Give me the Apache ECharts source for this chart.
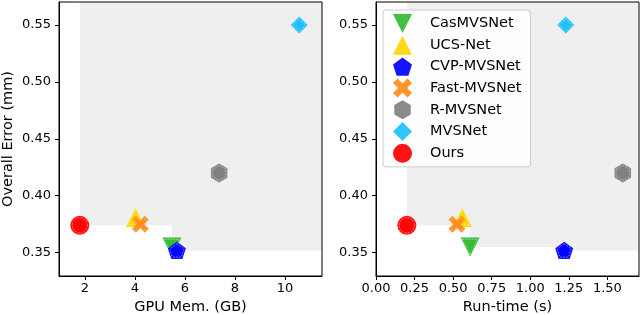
<!DOCTYPE html>
<html><head><meta charset="utf-8">
<script src="https://cdn.jsdelivr.net/npm/echarts@6/dist/echarts.min.js"></script>
<style>html,body{margin:0;padding:0;background:#fff}#c{width:640px;height:315px}</style>
</head><body><div id="c"></div>
<script>
const methods = ['CasMVSNet','UCS-Net','CVP-MVSNet','Fast-MVSNet','R-MVSNet','MVSNet','Ours'];
const gpuMemGB = [5.48, 4.03, 5.68, 4.22, 7.37, 10.57, 1.8];
const runTimeS = [0.61, 0.56, 1.22, 0.525, 1.6, 1.23, 0.2];
const overallError = [0.355, 0.381, 0.352, 0.375, 0.420, 0.550, 0.374];
const errorTicks = [0.35, 0.40, 0.45, 0.50, 0.55];
const memTicks = [2, 4, 6, 8, 10];
const timeTicks = [0, 0.25, 0.5, 0.75, 1.0, 1.25, 1.5];
const paretoMethods = ['Ours','CasMVSNet','CVP-MVSNet'];

const colors = ['#33bb33','#ffd700','#0000ff','#ff8c1a','#808080','#1ec0ff','#ff0000'];
const symbols = [
  'path://M-1,-1 L1,-1 L0,1 Z',
  'triangle',
  'path://M0,-1 L0.951,-0.309 L0.588,0.809 L-0.588,0.809 L-0.951,-0.309 Z',
  'path://M-1,-0.52 L-0.52,-1 L0,-0.48 L0.52,-1 L1,-0.52 L0.48,0 L1,0.52 L0.52,1 L0,0.48 L-0.52,1 L-1,0.52 L-0.48,0 Z',
  'path://M0,-1 L0.866,-0.5 L0.866,0.5 L0,1 L-0.866,0.5 L-0.866,-0.5 Z',
  'diamond','circle'];
const sizes = [19,19,18,17,19,17,19];

const yMin = 0.3295, yMax = 0.5702;
const memMin = 0.97, memMax = 11.48;
const timeMin = 0, timeMax = 1.705;

const font = 'DejaVu Sans';
const tickFont = 13, titleFont = 14.5;

function region(xs, xmax) {
  return paretoMethods.map(n => {
    const i = methods.indexOf(n);
    return [{coord:[xs[i], overallError[i]]},{coord:[xmax, yMax]}];
  });
}

function makeAxis(gridIndex, min, max, ticks, name, nameGap, margin, fmt) {
  const ax = {
    type:'value', gridIndex, min, max, splitLine:{show:false},
    axisLine:{show:true, lineStyle:{color:'#000', width:1}},
    axisTick:{show:true, inside:false, length:4, lineStyle:{color:'#000'}, customValues:ticks},
    axisLabel:{color:'#000', fontFamily:font, fontSize:tickFont, margin, customValues:ticks},
    nameTextStyle:{color:'#000', fontFamily:font, fontSize:titleFont}
  };
  if (fmt) ax.axisLabel.formatter = fmt;
  if (name) { ax.name = name; ax.nameLocation = 'middle'; ax.nameGap = nameGap; }
  return ax;
}

const series = [];
[0,1].forEach(g => {
  const xs = g === 0 ? gpuMemGB : runTimeS;
  const xmax = g === 0 ? memMax : timeMax;
  series.push({
    type:'scatter', xAxisIndex:g, yAxisIndex:g, data:[], silent:true, z:1,
    markArea:{silent:true, itemStyle:{color:'#efefef'}, data: region(xs, xmax)}
  });
  methods.forEach((m, i) => {
    series.push({
      name:m, type:'scatter', xAxisIndex:g, yAxisIndex:g,
      symbol:symbols[i], symbolSize:sizes[i], symbolKeepAspect:true,
      itemStyle:{color:colors[i], opacity:0.92},
      data:[[xs[i], overallError[i]]]
    });
    series.push({
      name:m + ' ring', type:'scatter', xAxisIndex:g, yAxisIndex:g, silent:true,
      symbol:symbols[i], symbolSize:sizes[i]-4, symbolKeepAspect:true,
      itemStyle:{color:colors[i], borderColor:'rgba(255,255,255,0.7)', borderWidth:0.8, borderType:[1.5,1.5]},
      data:[[xs[i], overallError[i]]]
    });
  });
});

const chart = echarts.init(document.getElementById('c'), null, {renderer:'canvas'});
chart.setOption({
  animation:false,
  backgroundColor:'#fff',
  grid:[
    {left:59, top:2, width:263, height:274, outerBoundsMode:'none', containLabel:false, show:true, borderColor:'#000', borderWidth:1, backgroundColor:'transparent', z:10},
    {left:376, top:2, width:263, height:274, outerBoundsMode:'none', containLabel:false, show:true, borderColor:'#000', borderWidth:1, backgroundColor:'transparent', z:10}
  ],
  xAxis:[
    makeAxis(0, memMin, memMax, memTicks, 'GPU Mem. (GB)', 20, 6, null),
    makeAxis(1, timeMin, timeMax, timeTicks, 'Run-time (s)', 20, 6, v => v.toFixed(2))
  ],
  yAxis:[
    makeAxis(0, yMin, yMax, errorTicks, 'Overall Error (mm)', 43, 8, v => v.toFixed(2)),
    makeAxis(1, yMin, yMax, errorTicks, null, 0, 8, v => v.toFixed(2))
  ],
  legend:{
    data: methods, orient:'vertical', left:383, top:10,
    itemWidth:19, itemHeight:19, itemGap:2.8,
    padding:[4,9,4,10],
    backgroundColor:'rgba(255,255,255,0.85)', borderColor:'#cccccc', borderWidth:1, borderRadius:3,
    textStyle:{color:'#000', fontFamily:font, fontSize:titleFont, lineHeight:16, padding:[0,0,0,13]},
    selectedMode:false
  },
  series
});
</script></body></html>
